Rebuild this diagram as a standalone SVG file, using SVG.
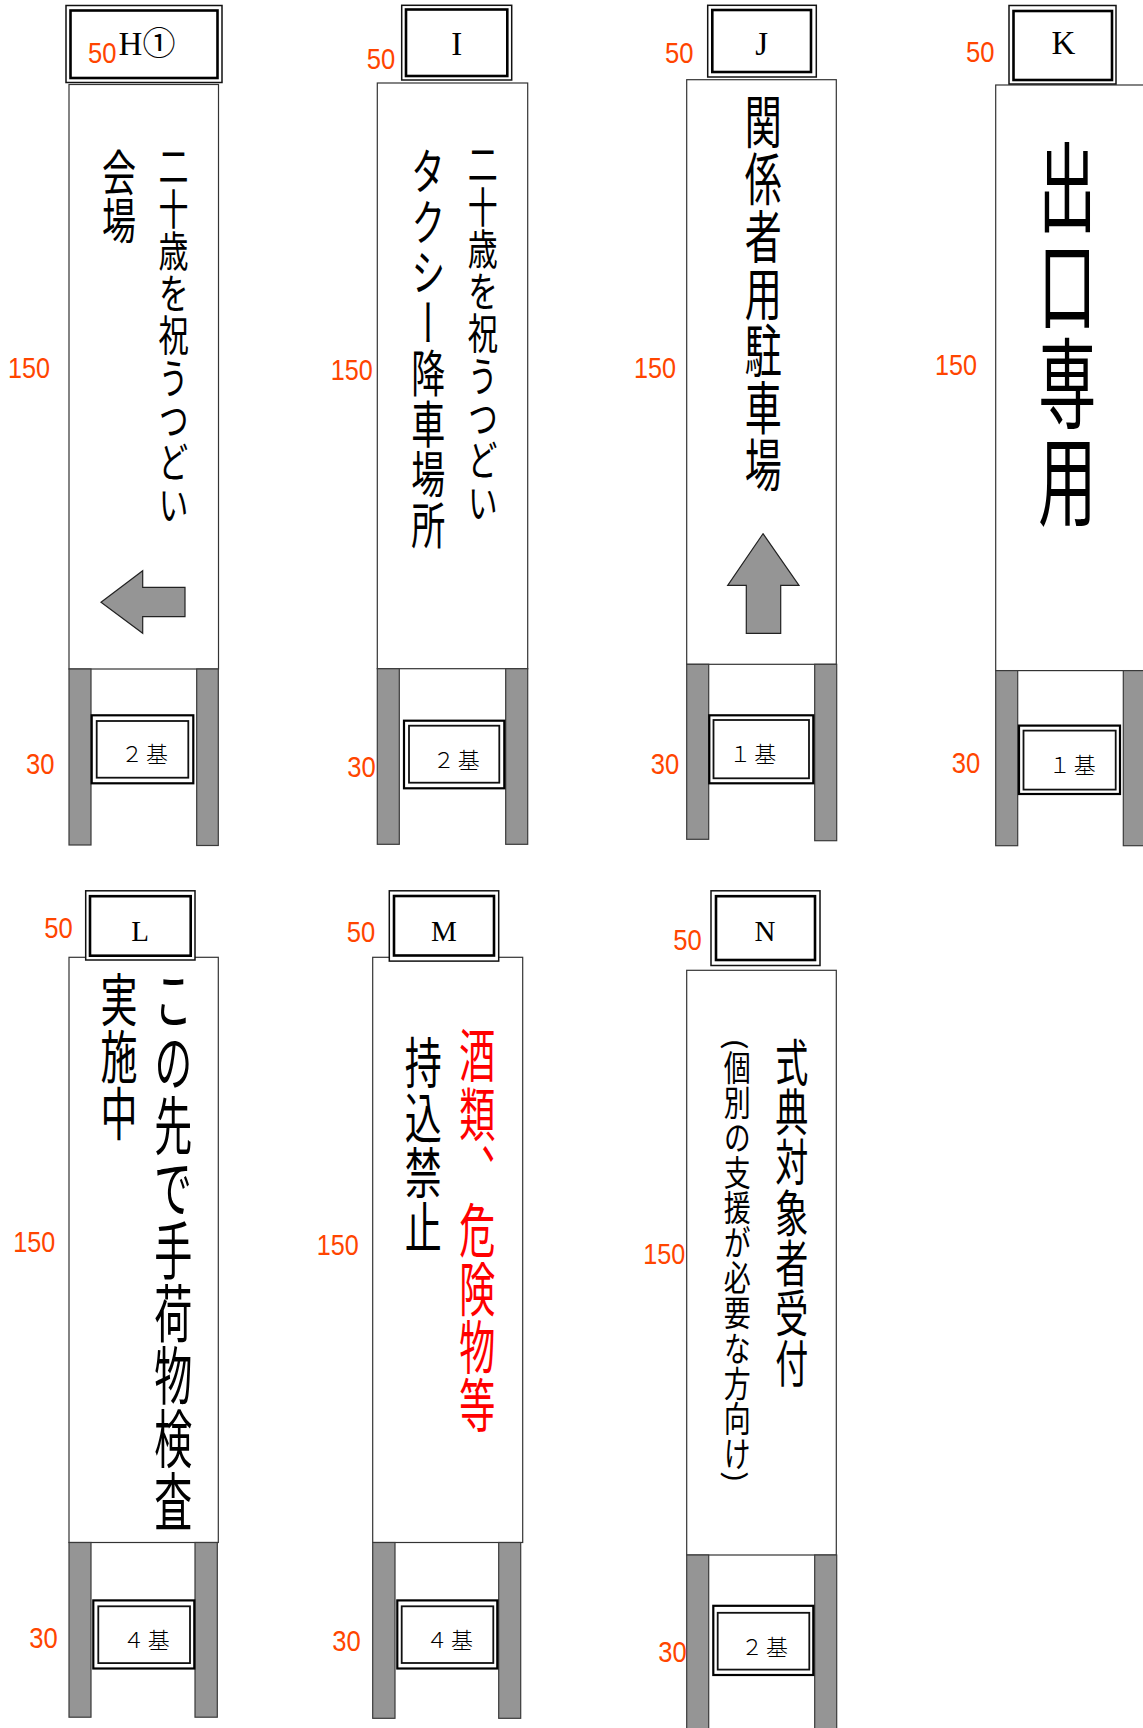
<svg xmlns="http://www.w3.org/2000/svg" width="1143" height="1728" viewBox="0 0 1143 1728">
<style>
.bg{fill:#ffffff}
.panel{fill:#ffffff;stroke:#333333;stroke-width:1.2}
.post{fill:#959595;stroke:#3a3a3a;stroke-width:1.2}
.arrow{fill:#959595;stroke:#222222;stroke-width:1.2}
.tbo{fill:#ffffff;stroke:#111111;stroke-width:1.5}
.tbi{fill:none;stroke:#000000;stroke-width:2.6}
.bbo{fill:#ffffff;stroke:#000000;stroke-width:2.2}
.bbi{fill:none;stroke:#111111;stroke-width:1.8}
.dim{fill:#FF4500;font-family:"Liberation Sans",Arial,sans-serif;font-size:30px}
.ttl{fill:#000000;font-family:"Liberation Serif","Noto Sans CJK JP",serif;font-size:33px;text-anchor:middle}
.ttl2{fill:#000000;font-family:"Liberation Serif","Noto Sans CJK JP",serif;font-size:29px;text-anchor:middle}
.cnt{fill:#000000;font-family:"Liberation Serif","Noto Sans CJK JP",serif;font-size:22px;font-weight:300;letter-spacing:3px;text-anchor:middle}
.vt{fill:#000000;font-family:"Noto Sans CJK JP","Noto Sans CJK SC",sans-serif;writing-mode:vertical-rl;text-anchor:start}
.red{fill:#FF0000}
</style>
<rect class="bg" x="0" y="0" width="1143" height="1728"/>

<g id="sign-H">
  <rect class="panel" x="69" y="84.5" width="149.5" height="584.5"/>
  <rect class="post" x="69" y="669" width="22" height="176"/>
  <rect class="post" x="196.7" y="669" width="21.6" height="176.5"/>
  <rect class="tbo" x="66" y="5.5" width="156" height="77"/>
  <rect class="tbi" x="70.5" y="10.5" width="147" height="67.5"/>
  <text class="ttl" x="147" y="55">H①</text>
  <text class="vt" font-size="30" transform="translate(173.5,145) scale(1,1.41)">二十歳を祝うつどい</text>
  <text class="vt" font-size="34" transform="translate(119,148) scale(1,1.43)">会場</text>
  <polygon class="arrow" points="101,602.3 142.7,570.7 142.7,587.3 185,587.3 185,616.7 142.7,616.7 142.7,633.3"/>
  <rect class="bbo" x="91.7" y="715.3" width="101.6" height="68"/>
  <rect class="bbi" x="96.7" y="721" width="91.6" height="56.7"/>
  <text class="cnt" x="146" y="761.7">２基</text>
  <text class="dim" x="88" y="63" textLength="28.5" lengthAdjust="spacingAndGlyphs">50</text>
  <text class="dim" x="8" y="378" textLength="42" lengthAdjust="spacingAndGlyphs">150</text>
  <text class="dim" x="26" y="774.3" textLength="28.5" lengthAdjust="spacingAndGlyphs">30</text>
</g>

<g id="sign-I">
  <rect class="panel" x="377.3" y="83" width="150.4" height="585.7"/>
  <rect class="post" x="377.3" y="668.7" width="22" height="175.6"/>
  <rect class="post" x="505.7" y="668.7" width="22" height="175.6"/>
  <rect class="tbo" x="401.7" y="5.3" width="110" height="74.7"/>
  <rect class="tbi" x="406" y="9.5" width="101.3" height="66.5"/>
  <text class="ttl" x="456.7" y="55">I</text>
  <text class="vt" font-size="30" transform="translate(482.7,143) scale(1,1.41)">二十歳を祝うつどい</text>
  <text class="vt" font-size="34" transform="translate(428.3,146) scale(1,1.485)">タクシー降車場所</text>
  <rect class="bbo" x="404" y="720.7" width="100.3" height="67.6"/>
  <rect class="bbi" x="409" y="725.7" width="90.3" height="57"/>
  <text class="cnt" x="457.7" y="768.3">２基</text>
  <text class="dim" x="366.7" y="69" textLength="28.5" lengthAdjust="spacingAndGlyphs">50</text>
  <text class="dim" x="330.7" y="380" textLength="42" lengthAdjust="spacingAndGlyphs">150</text>
  <text class="dim" x="347.3" y="776.7" textLength="28.5" lengthAdjust="spacingAndGlyphs">30</text>
</g>

<g id="sign-J">
  <rect class="panel" x="686.7" y="79.7" width="149.6" height="584.6"/>
  <rect class="post" x="686.7" y="664.3" width="22" height="175"/>
  <rect class="post" x="814.7" y="664.3" width="22" height="176.4"/>
  <rect class="tbo" x="707.7" y="5.3" width="108.6" height="71.7"/>
  <rect class="tbi" x="712.3" y="10" width="98.7" height="62"/>
  <text class="ttl" x="761.7" y="55">J</text>
  <text class="vt" font-size="37" transform="translate(763.3,93) scale(1,1.545)">関係者用駐車場</text>
  <polygon class="arrow" points="763,533.7 799,585.3 780.7,585.3 780.7,633.3 746.3,633.3 746.3,585.3 727.7,585.3"/>
  <rect class="bbo" x="709.3" y="715.3" width="104" height="68"/>
  <rect class="bbi" x="713.5" y="720" width="95.5" height="58.3"/>
  <text class="cnt" x="754.3" y="761.7">１基</text>
  <text class="dim" x="665" y="63.3" textLength="28.5" lengthAdjust="spacingAndGlyphs">50</text>
  <text class="dim" x="634" y="377.7" textLength="42" lengthAdjust="spacingAndGlyphs">150</text>
  <text class="dim" x="650.7" y="774.3" textLength="28.5" lengthAdjust="spacingAndGlyphs">30</text>
</g>

<g id="sign-K">
  <rect class="panel" x="995.7" y="85" width="150.3" height="585.6"/>
  <rect class="post" x="995.7" y="670.6" width="22" height="175.1"/>
  <rect class="post" x="1123.3" y="670.6" width="22" height="175.1"/>
  <rect class="tbo" x="1009" y="5.5" width="107" height="78.5"/>
  <rect class="tbi" x="1013.5" y="11" width="98.5" height="69"/>
  <text class="ttl" x="1063.3" y="54.4">K</text>
  <text class="vt" font-size="58" transform="translate(1067.3,138) scale(1,1.69)">出口専用</text>
  <rect class="bbo" x="1019" y="725.6" width="101" height="68.4"/>
  <rect class="bbi" x="1023.5" y="730.6" width="92.2" height="59"/>
  <text class="cnt" x="1073.7" y="773.3">１基</text>
  <text class="dim" x="966" y="61.7" textLength="28.5" lengthAdjust="spacingAndGlyphs">50</text>
  <text class="dim" x="935" y="374.9" textLength="42" lengthAdjust="spacingAndGlyphs">150</text>
  <text class="dim" x="951.7" y="773.3" textLength="28.5" lengthAdjust="spacingAndGlyphs">30</text>
</g>

<g id="sign-L">
  <rect class="panel" x="69" y="957.3" width="149.3" height="585.2"/>
  <rect class="post" x="69" y="1542.5" width="22" height="174.7"/>
  <rect class="post" x="195" y="1542.5" width="22.3" height="174.7"/>
  <rect class="tbo" x="85.7" y="890.8" width="109.3" height="69.2"/>
  <rect class="tbi" x="90" y="896.2" width="100.7" height="59.5"/>
  <text class="ttl2" x="140" y="940.6">L</text>
  <text class="vt" font-size="38" transform="translate(173.3,968) scale(1,1.65)">この先で手荷物検査</text>
  <text class="vt" font-size="37" transform="translate(119,971.6) scale(1,1.53)">実施中</text>
  <rect class="bbo" x="93.3" y="1600.4" width="101" height="68.1"/>
  <rect class="bbi" x="98.3" y="1606.3" width="91.7" height="56.8"/>
  <text class="cnt" x="147.7" y="1648">４基</text>
  <text class="dim" x="44.3" y="937.9" textLength="28.5" lengthAdjust="spacingAndGlyphs">50</text>
  <text class="dim" x="13.3" y="1251.6" textLength="42" lengthAdjust="spacingAndGlyphs">150</text>
  <text class="dim" x="29.3" y="1648" textLength="28.5" lengthAdjust="spacingAndGlyphs">30</text>
</g>

<g id="sign-M">
  <rect class="panel" x="372.7" y="957.3" width="150" height="585.2"/>
  <rect class="post" x="372.7" y="1542.5" width="22.3" height="175.8"/>
  <rect class="post" x="498.7" y="1542.5" width="22" height="175.8"/>
  <rect class="tbo" x="389.3" y="890.8" width="109.4" height="70.3"/>
  <rect class="tbi" x="394" y="896" width="100" height="59.5"/>
  <text class="ttl2" x="444" y="940.6">M</text>
  <text class="vt red" font-size="36" transform="translate(477.3,1026) scale(1,1.62)">酒類、危険物等</text>
  <text class="vt" font-size="37" transform="translate(423.3,1034) scale(1,1.49)">持込禁止</text>
  <rect class="bbo" x="397.3" y="1600.4" width="100" height="68.1"/>
  <rect class="bbi" x="401.7" y="1606.3" width="91.6" height="56.7"/>
  <text class="cnt" x="451" y="1648">４基</text>
  <text class="dim" x="346.7" y="942.2" textLength="28.5" lengthAdjust="spacingAndGlyphs">50</text>
  <text class="dim" x="316.7" y="1254.8" textLength="42" lengthAdjust="spacingAndGlyphs">150</text>
  <text class="dim" x="332.3" y="1650.7" textLength="28.5" lengthAdjust="spacingAndGlyphs">30</text>
</g>

<g id="sign-N">
  <rect class="panel" x="686.7" y="970.3" width="149.6" height="584.7"/>
  <rect class="post" x="686.7" y="1555" width="22" height="175"/>
  <rect class="post" x="814.7" y="1555" width="22" height="175"/>
  <rect class="tbo" x="711" y="890.8" width="109" height="74.7"/>
  <rect class="tbi" x="716" y="896.2" width="99" height="63.8"/>
  <text class="ttl2" x="765" y="940.6">N</text>
  <text class="vt" font-size="33" transform="translate(791.7,1037) scale(1,1.52)">式典対象者受付</text>
  <text class="vt" font-size="27" transform="translate(737.3,1038) scale(1,1.3)">(個別の支援が必要な方向け)</text>
  <rect class="bbo" x="713.3" y="1605.8" width="100" height="69.2"/>
  <rect class="bbi" x="717.7" y="1612.8" width="91.6" height="56.8"/>
  <text class="cnt" x="766" y="1654.5">２基</text>
  <text class="dim" x="673.3" y="950.3" textLength="28.5" lengthAdjust="spacingAndGlyphs">50</text>
  <text class="dim" x="643.3" y="1264" textLength="42" lengthAdjust="spacingAndGlyphs">150</text>
  <text class="dim" x="658.3" y="1661.5" textLength="28.5" lengthAdjust="spacingAndGlyphs">30</text>
</g>
</svg>
